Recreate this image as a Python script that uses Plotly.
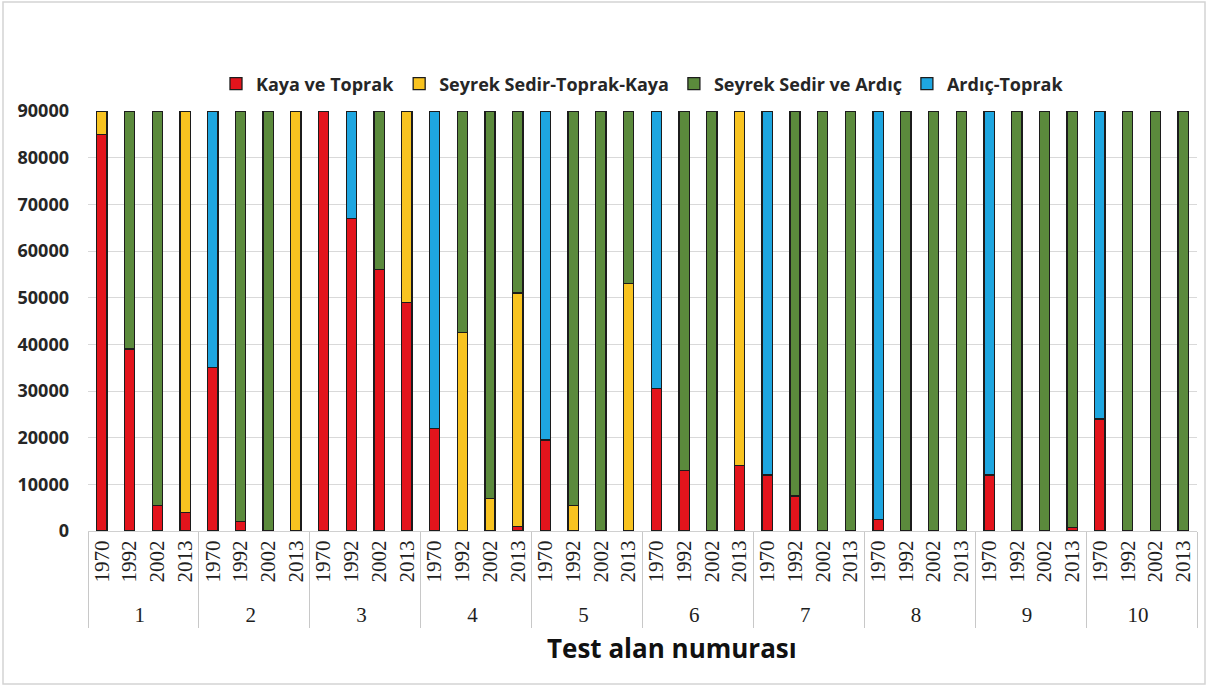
import plotly.graph_objects as go

# Test sites and survey years
sites = ["1", "2", "3", "4", "5", "6", "7", "8", "9", "10"]
years = ["1970", "1992", "2002", "2013"]

# Area per class (m²), four values per site in the order of `years`
kaya_toprak = [
    85000, 39000, 5500, 4000,
    35000, 2000, 0, 0,
    90000, 67000, 56000, 49000,
    22000, 0, 0, 1000,
    19500, 0, 0, 0,
    30500, 13000, 0, 14000,
    12000, 7500, 0, 0,
    2500, 0, 0, 0,
    12000, 0, 0, 700,
    24000, 0, 0, 0,
]
seyrek_sedir_toprak_kaya = [
    5000, 0, 0, 86000,
    0, 0, 0, 90000,
    0, 0, 0, 41000,
    0, 42500, 7000, 50000,
    0, 5500, 0, 53000,
    0, 0, 0, 76000,
    0, 0, 0, 0,
    0, 0, 0, 0,
    0, 0, 0, 0,
    0, 0, 0, 0,
]
seyrek_sedir_ardic = [
    0, 51000, 84500, 0,
    0, 88000, 90000, 0,
    0, 0, 34000, 0,
    0, 47500, 83000, 39000,
    0, 84500, 90000, 37000,
    0, 77000, 90000, 0,
    0, 82500, 90000, 90000,
    0, 90000, 90000, 90000,
    0, 90000, 90000, 89300,
    0, 90000, 90000, 90000,
]
ardic_toprak = [
    0, 0, 0, 0,
    55000, 0, 0, 0,
    0, 23000, 0, 0,
    68000, 0, 0, 0,
    70500, 0, 0, 0,
    59500, 0, 0, 0,
    78000, 0, 0, 0,
    87500, 0, 0, 0,
    78000, 0, 0, 0,
    66000, 0, 0, 0,
]

series = [
    ("Kaya ve Toprak", kaya_toprak, "#e3141c"),
    ("Seyrek Sedir-Toprak-Kaya", seyrek_sedir_toprak_kaya, "#f8c320"),
    ("Seyrek Sedir ve Ardıç", seyrek_sedir_ardic, "#5b8a3c"),
    ("Ardıç-Toprak", ardic_toprak, "#1ea6e0"),
]

x_outer = [s for s in sites for _ in years]
x_inner = [y for _ in sites for y in years]

fig = go.Figure()
for name, vals, color in series:
    fig.add_trace(go.Bar(
        name=name,
        x=[x_outer, x_inner],
        y=[v if v else None for v in vals],
        marker=dict(color=color, line=dict(color="#1c1c1c", width=1.3)),
    ))

W, H = 1209, 688
L, R, T, B = 88, 12, 111, 157
pw, ph = W - L - R, H - T - B

def px(xp):
    return (xp - L) / pw

def py(yp):
    return (H - B - yp) / ph

fig.update_layout(
    width=W, height=H,
    margin=dict(l=L, r=R, t=T, b=B),
    barmode="stack",
    bargap=0.63,
    plot_bgcolor="white",
    paper_bgcolor="white",
    showlegend=True,
    legend=dict(
        orientation="h",
        x=0.5, xanchor="center",
        y=py(84), yanchor="middle",
        font=dict(family="Open Sans", size=18, color="#262626", weight="bold"),
        itemwidth=30,
        traceorder="normal",
    ),
    xaxis=dict(
        type="multicategory",
        tickangle=-90,
        tickfont=dict(family="Liberation Serif", size=21, color="#1e1e1e"),
        showdividers=True,
        dividercolor="#c8c8c8",
        dividerwidth=1,
        showline=True,
        linecolor="#d0d0d0",
        linewidth=1,
        showgrid=False,
    ),
    yaxis=dict(
        range=[0, 90000],
        tickvals=list(range(0, 90001, 10000)),
        tickformat="d",
        showgrid=True,
        gridcolor="#d9d9d9",
        gridwidth=1,
        zeroline=False,
        showline=False,
        ticks="",
        ticklabelstandoff=18,
        tickfont=dict(family="Open Sans", size=18, color="#262626", weight="bold"),
    ),
    annotations=[dict(
        text="Test alan numurası",
        xref="paper", yref="paper",
        x=px(672), y=py(648),
        xanchor="center", yanchor="middle",
        showarrow=False,
        font=dict(family="Open Sans", size=26, color="#111111", weight="bold"),
    )],
    shapes=[dict(
        type="rect", xref="paper", yref="paper",
        x0=px(3), x1=px(1205), y0=py(684), y1=py(2),
        line=dict(color="#d4d4d4", width=1.5),
        fillcolor="rgba(0,0,0,0)",
        layer="below",
    )],
)

fig.write_html("out.html")
